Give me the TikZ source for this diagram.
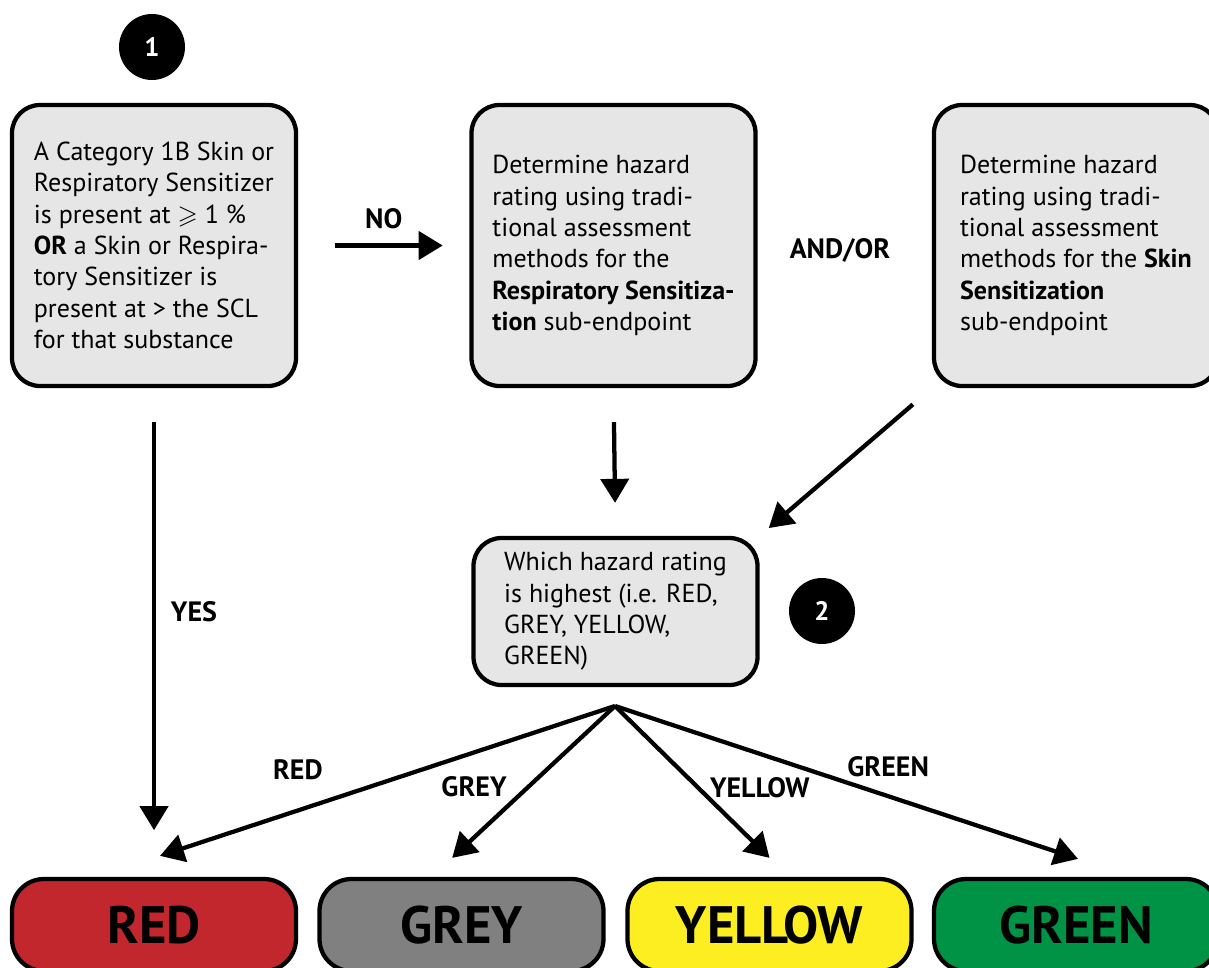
\documentclass[tikz,border=0pt]{standalone}
\usepackage{amssymb}
\usepackage{fontspec}
\setmainfont{PT Sans}
\usetikzlibrary{arrows.meta}

\definecolor{boxgrey}{HTML}{E6E6E6}
\definecolor{ratered}{HTML}{C1272D}
\definecolor{rategrey}{HTML}{808080}
\definecolor{rateyellow}{HTML}{FCEE21}
\definecolor{rategreen}{HTML}{009245}

\tikzset{
	stepbox/.style = {draw, line width=3.2pt, rounded corners=21pt, fill=boxgrey, minimum width=213pt, minimum height=210.75pt, align=left, font=\fontsize{19.5}{23.5}\selectfont},
	ratebox/.style = {draw, line width=3.2pt, rounded corners=24pt, minimum width=213pt, minimum height=69pt, font=\fontsize{39.5}{40}\selectfont\bfseries},
	marker/.style = {circle, fill=black, text=white, minimum size=49.5pt, inner sep=0pt, font=\fontsize{20}{20}\selectfont\bfseries},
	flow/.style = {line width=3.2pt, -{Triangle[length=18pt,width=21pt]}},
	edgetag/.style = {font=\fontsize{21}{22}\selectfont\bfseries}
}

\begin{document}
\begin{tikzpicture}[x=0.75pt, y=-0.75pt]
	\useasboundingbox (0,0) rectangle (1209,967);
	\clip (0,0) rectangle (1209,967);
		\node[marker] (one) at (152,47) {1};
		\node[marker] (two) at (822,611) {2};
		\node[stepbox] (cat) at (154,245.5) {A Category 1B Skin or\\Respiratory Sensitizer\\is present at $\geqslant$ 1 \%\\\textbf{OR} a Skin or Respira-\\tory Sensitizer is\\present at > the SCL\\for that substance};
		\node[stepbox] (resp) at (613.5,245.5) {Determine hazard\\rating using tradi-\\tional assessment\\methods for the\\\textbf{Respiratory Sensitiza-}\\\textbf{tion} sub-endpoint};
		\node[stepbox] (skin) at (1076,245.5) {Determine hazard\\rating using tradi-\\tional assessment\\methods for the \textbf{Skin}\\\textbf{Sensitization}\\sub-endpoint};
		\node[edgetag] (andor) at (840,250) {AND/OR};
		\node[stepbox, minimum height=110.25pt] (which) at (615.5,611.5) {Which hazard rating\\is highest (i.e. RED,\\GREY, YELLOW,\\GREEN)};
		\node[ratebox, fill=ratered] (red) at (154,925) {RED};
		\node[ratebox, fill=rategrey] (grey) at (461.5,925) {GREY};
		\node[ratebox, fill=rateyellow] (yellow) at (769.5,925) {YELLOW};
		\node[ratebox, fill=rategreen] (green) at (1076,925) {GREEN};
		\coordinate (fork) at (615,706);
	% first question
		\draw[flow, shorten <=28pt, shorten >=20pt] (cat.east) -- node[edgetag, yshift=20pt] {NO} (resp.west);
		\draw[flow, shorten <=25.5pt, shorten >=35pt] (cat.south) -- node[edgetag, pos=.458, xshift=30pt] {YES} (red.north);
		\draw[flow, shorten <=25.5pt, shorten >=24.75pt] (resp.south) -- (which.north);
		\draw[flow, shorten <=18.75pt, shorten >=9pt] (skin.south west) -- (which.north east);
	% highest rating
		\draw[flow] (fork) -- node[edgetag, pos=.697, yshift=30.75pt] {RED} ([xshift=4.5pt, yshift=15.75pt]red.north);
		\draw[flow] (fork) -- node[edgetag, pos=.53, xshift=-41pt] {GREY} ([xshift=-7pt, yshift=14.25pt]grey.north);
		\draw[flow] (fork) -- node[edgetag, pos=.54, xshift=46pt] {YELLOW} ([yshift=14.25pt]yellow.north);
		\draw[flow] (fork) -- node[edgetag, pos=.59, yshift=22pt] {GREEN} ([xshift=1.5pt, yshift=13.5pt]green.north);
\end{tikzpicture}
\end{document}
